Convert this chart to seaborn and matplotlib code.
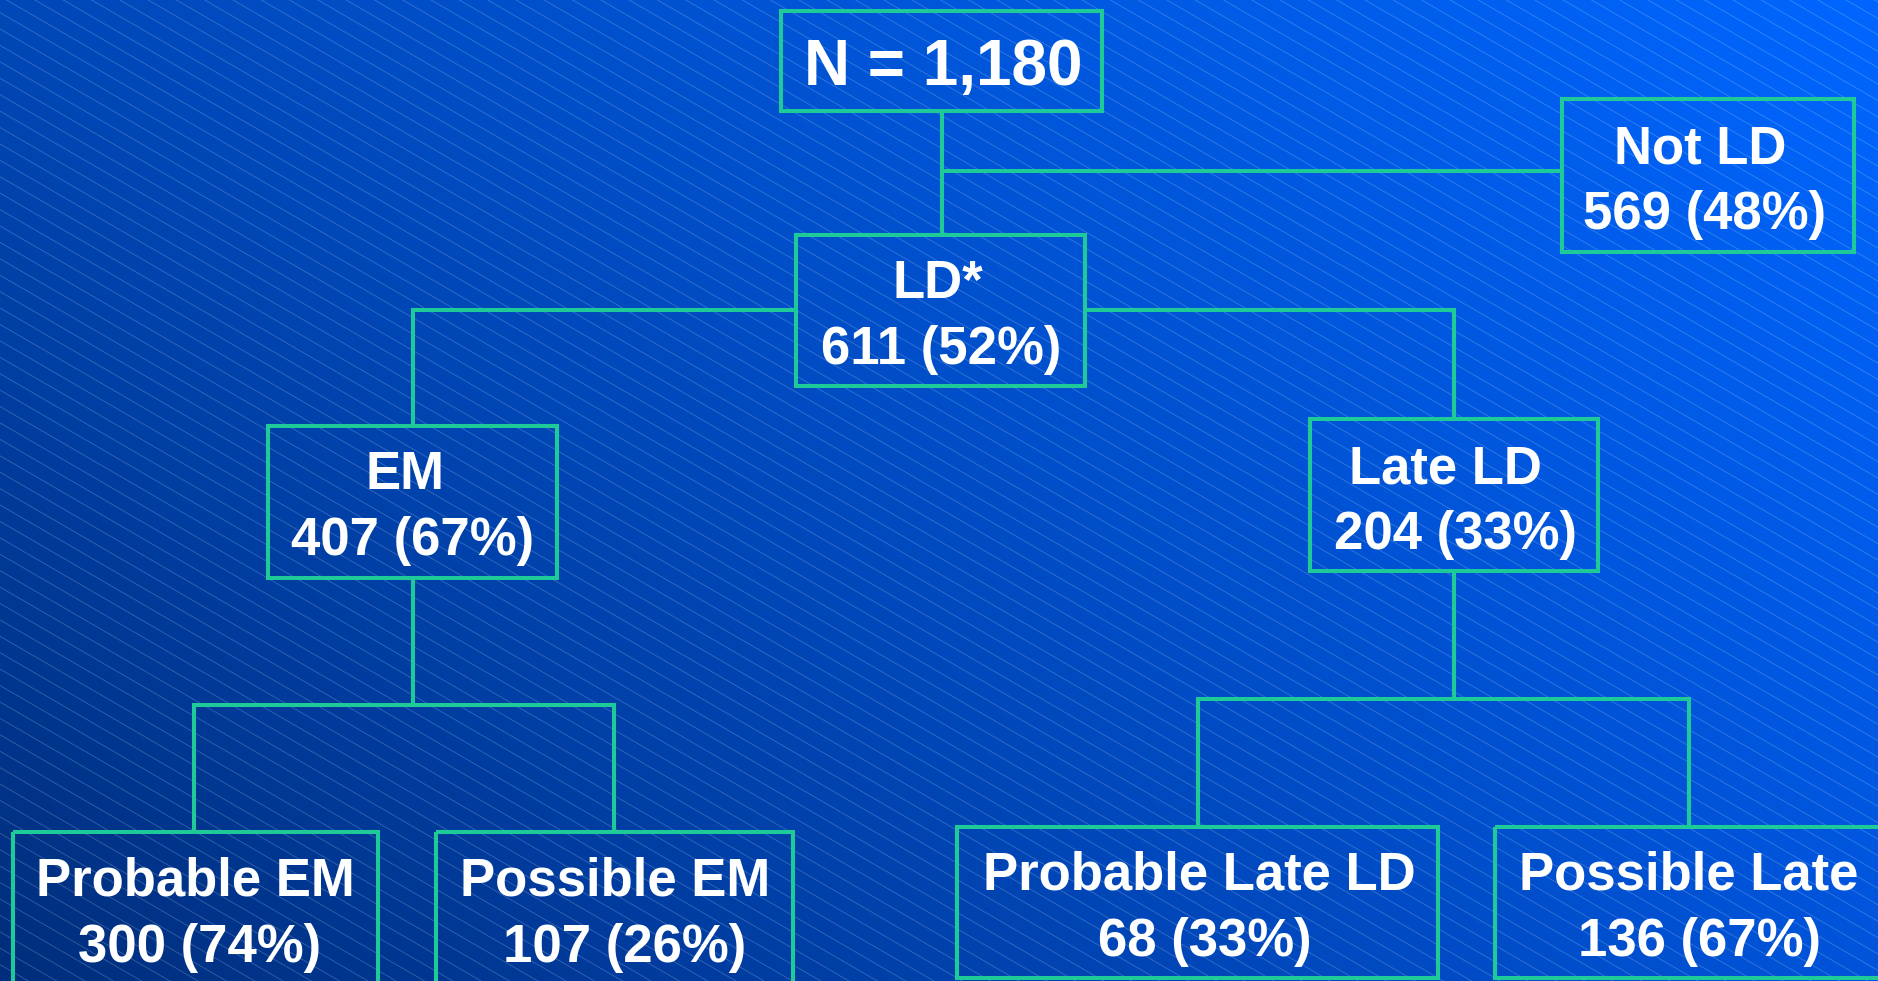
import numpy as np
import matplotlib
matplotlib.use("Agg")
import matplotlib.pyplot as plt
from matplotlib.patches import Rectangle
import seaborn as sns

# --- data -------------------------------------------------------------
node_names = ["N = 1,180", "Not LD", "LD*", "EM", "Late LD",
              "Probable EM", "Possible EM", "Probable Late LD", "Possible Late"]
node_counts = [1180, 569, 611, 407, 204, 300, 107, 68, 136]
node_pcts = [None, 48, 52, 67, 33, 74, 26, 33, 67]

# --- layout (pixel space, y downward) ---------------------------------
# box: (left, top, right, bottom)
boxes = [
    (781, 11, 1102, 111),
    (1562, 99, 1854, 252),
    (796, 235, 1085, 386),
    (268, 426, 557, 578),
    (1310, 419, 1598, 571),
    (13, 832, 378, 1000),
    (436, 832, 793, 1000),
    (957, 827, 1438, 978),
    (1495, 827, 1900, 978),
]
# label anchors: (x, baseline) for the name line and the count line
name_xy = [(943, 85), (1700, 163), (938, 298), (405, 489), (1445, 483),
           (195, 895), (615, 895), (1199, 890), (1689, 890)]
count_xy = [None, (1705, 229), (941, 364), (413, 555), (1455, 549),
            (200, 962), (625, 962), (1205, 956), (1700, 956)]

# connector polylines
connectors = [
    [(942, 111), (942, 235)],
    [(942, 171), (1562, 171)],
    [(413, 426), (413, 310), (796, 310)],
    [(1085, 310), (1454, 310), (1454, 419)],
    [(413, 578), (413, 705)],
    [(194, 832), (194, 705), (614, 705), (614, 832)],
    [(1454, 571), (1454, 699)],
    [(1198, 827), (1198, 699), (1689, 699), (1689, 827)],
]

W, H = 1878, 981
GREEN = "#1ecb98"

sns.set_theme(style="white")
plt.rcParams["font.family"] = ["Liberation Sans", "DejaVu Sans"]

fig = plt.figure(figsize=(W / 100, H / 100), dpi=100)
ax = fig.add_axes([0, 0, 1, 1])
ax.set_xlim(0, W)
ax.set_ylim(H, 0)
ax.axis("off")

# background: bilinear blend of four corner colours
corners = {
    "tl": np.array([0, 72, 184]) / 255,
    "tr": np.array([0, 102, 255]) / 255,
    "bl": np.array([0, 46, 124]) / 255,
    "br": np.array([0, 84, 218]) / 255,
}
u = np.linspace(0, 1, 400)[None, :, None]
v = np.linspace(0, 1, 220)[:, None, None]
grad = ((1 - u) * (1 - v) * corners["tl"] + u * (1 - v) * corners["tr"]
        + (1 - u) * v * corners["bl"] + u * v * corners["br"])
ax.imshow(grad, extent=(0, W, H, 0), aspect="auto", interpolation="bilinear", zorder=0)

# diagonal pin-stripe texture
slope = 0.58
step = 28.3
for x0 in np.arange(-H / slope - step, W + step, step):
    xs = np.array([x0, x0 + (H + 20) / slope])
    ys = slope * (xs - x0)
    ax.plot(xs, ys, color="white", lw=0.6, alpha=0.22, zorder=1)

# connectors
for pts in connectors:
    xs, ys = zip(*pts)
    ax.plot(xs, ys, color=GREEN, lw=2.9, solid_capstyle="butt",
            solid_joinstyle="miter", zorder=2)

# boxes and labels
for i, (l, t, r, b) in enumerate(boxes):
    ax.add_patch(Rectangle((l, t), r - l, b - t, fill=False, edgecolor=GREEN,
                           lw=2.9, zorder=3, joinstyle="miter"))
    size = 46 if node_pcts[i] is None else 38
    nx, ny = name_xy[i]
    ax.text(nx, ny, node_names[i], color="white", fontsize=size,
            fontweight="bold", ha="center", va="baseline", zorder=4)
    if count_xy[i] is not None:
        cx, cy = count_xy[i]
        ax.text(cx, cy, f"{node_counts[i]} ({node_pcts[i]}%)", color="white",
                fontsize=size, fontweight="bold", ha="center", va="baseline",
                zorder=4)

fig.savefig("out.png", dpi=100)
